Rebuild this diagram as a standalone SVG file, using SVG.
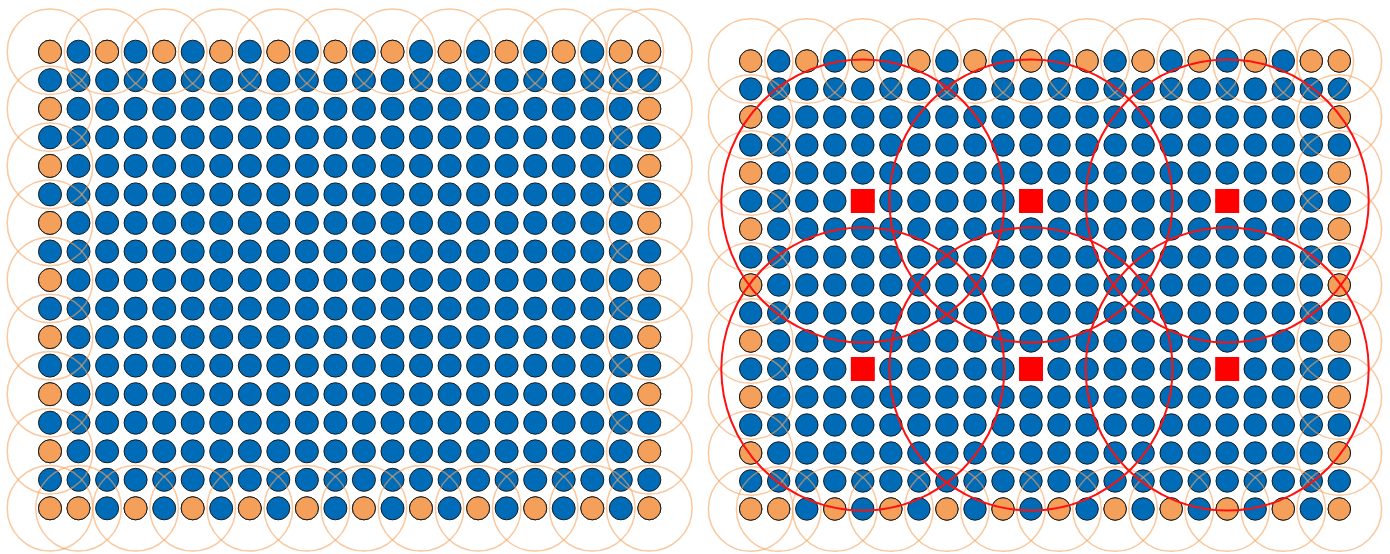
<svg xmlns="http://www.w3.org/2000/svg" xmlns:xlink="http://www.w3.org/1999/xlink" width="1390" height="554" viewBox="0 0 1390 554">
<style>
.b{fill:#006cb7;stroke:#1a1a1a;stroke-width:1}
.o{fill:#f5a05a;stroke:#1a1a1a;stroke-width:1}
.ring{fill:none;stroke:#f4a460;stroke-opacity:.6;stroke-width:1.5}
.rc{fill:none;stroke:#ff1010;stroke-width:2}
.sq{fill:#ff0000}
</style>
<defs>
<circle id="oL" class="o" r="11.5"/>
<circle id="oR" class="o" r="11.2"/>
<circle id="gL" class="ring" r="42.8"/>
<circle id="gR" class="ring" r="42.3"/>
<g id="rowL">
<circle class="b" r="11.5" cx="50"/><circle class="b" r="11.5" cx="78.5"/><circle class="b" r="11.5" cx="107.1"/><circle class="b" r="11.5" cx="135.6"/><circle class="b" r="11.5" cx="164.2"/><circle class="b" r="11.5" cx="192.7"/><circle class="b" r="11.5" cx="221.2"/><circle class="b" r="11.5" cx="249.8"/><circle class="b" r="11.5" cx="278.3"/><circle class="b" r="11.5" cx="306.9"/><circle class="b" r="11.5" cx="335.4"/><circle class="b" r="11.5" cx="363.9"/><circle class="b" r="11.5" cx="392.5"/><circle class="b" r="11.5" cx="421"/><circle class="b" r="11.5" cx="449.6"/><circle class="b" r="11.5" cx="478.1"/><circle class="b" r="11.5" cx="506.6"/><circle class="b" r="11.5" cx="535.2"/><circle class="b" r="11.5" cx="563.7"/><circle class="b" r="11.5" cx="592.3"/><circle class="b" r="11.5" cx="620.8"/><circle class="b" r="11.5" cx="649.3"/>
</g>
<g id="rowR">
<circle class="b" r="11.2" cx="750.7"/><circle class="b" r="11.2" cx="778.7"/><circle class="b" r="11.2" cx="806.8"/><circle class="b" r="11.2" cx="834.8"/><circle class="b" r="11.2" cx="862.8"/><circle class="b" r="11.2" cx="890.9"/><circle class="b" r="11.2" cx="918.9"/><circle class="b" r="11.2" cx="946.9"/><circle class="b" r="11.2" cx="975"/><circle class="b" r="11.2" cx="1003"/><circle class="b" r="11.2" cx="1031"/><circle class="b" r="11.2" cx="1059"/><circle class="b" r="11.2" cx="1087.1"/><circle class="b" r="11.2" cx="1115.1"/><circle class="b" r="11.2" cx="1143.1"/><circle class="b" r="11.2" cx="1171.2"/><circle class="b" r="11.2" cx="1199.2"/><circle class="b" r="11.2" cx="1227.2"/><circle class="b" r="11.2" cx="1255.2"/><circle class="b" r="11.2" cx="1283.3"/><circle class="b" r="11.2" cx="1311.3"/><circle class="b" r="11.2" cx="1339.3"/>
</g>
</defs>
<rect width="1390" height="554" fill="#ffffff"/>

<g id="left-grid">
<g id="left-nodes">
<use href="#rowL" y="51.7"/><use href="#rowL" y="80.2"/><use href="#rowL" y="108.8"/><use href="#rowL" y="137.3"/><use href="#rowL" y="165.9"/><use href="#rowL" y="194.4"/><use href="#rowL" y="222.9"/><use href="#rowL" y="251.5"/><use href="#rowL" y="280"/><use href="#rowL" y="308.6"/><use href="#rowL" y="337.1"/><use href="#rowL" y="365.6"/><use href="#rowL" y="394.2"/><use href="#rowL" y="422.7"/><use href="#rowL" y="451.3"/><use href="#rowL" y="479.8"/><use href="#rowL" y="508.3"/>
</g>
<g id="left-boundary-nodes">
<use href="#oL" x="50" y="51.7"/><use href="#oL" x="107.1" y="51.7"/><use href="#oL" x="164.2" y="51.7"/><use href="#oL" x="221.2" y="51.7"/><use href="#oL" x="278.3" y="51.7"/><use href="#oL" x="335.4" y="51.7"/><use href="#oL" x="392.5" y="51.7"/><use href="#oL" x="449.6" y="51.7"/><use href="#oL" x="506.6" y="51.7"/><use href="#oL" x="563.7" y="51.7"/><use href="#oL" x="620.8" y="51.7"/><use href="#oL" x="649.3" y="51.7"/>
<use href="#oL" x="50" y="508.3"/><use href="#oL" x="78.5" y="508.3"/><use href="#oL" x="135.6" y="508.3"/><use href="#oL" x="192.7" y="508.3"/><use href="#oL" x="249.8" y="508.3"/><use href="#oL" x="306.9" y="508.3"/><use href="#oL" x="363.9" y="508.3"/><use href="#oL" x="421" y="508.3"/><use href="#oL" x="478.1" y="508.3"/><use href="#oL" x="535.2" y="508.3"/><use href="#oL" x="592.3" y="508.3"/><use href="#oL" x="649.3" y="508.3"/>
<use href="#oL" x="50" y="108.8"/><use href="#oL" x="50" y="165.9"/><use href="#oL" x="50" y="222.9"/><use href="#oL" x="50" y="280"/><use href="#oL" x="50" y="337.1"/><use href="#oL" x="50" y="394.2"/><use href="#oL" x="50" y="451.3"/>
<use href="#oL" x="649.3" y="108.8"/><use href="#oL" x="649.3" y="165.9"/><use href="#oL" x="649.3" y="222.9"/><use href="#oL" x="649.3" y="280"/><use href="#oL" x="649.3" y="337.1"/><use href="#oL" x="649.3" y="394.2"/><use href="#oL" x="649.3" y="451.3"/>
</g>
<g id="left-rings">
<use href="#gL" x="50" y="51.7"/><use href="#gL" x="107.1" y="51.7"/><use href="#gL" x="164.2" y="51.7"/><use href="#gL" x="221.2" y="51.7"/><use href="#gL" x="278.3" y="51.7"/><use href="#gL" x="335.4" y="51.7"/><use href="#gL" x="392.5" y="51.7"/><use href="#gL" x="449.6" y="51.7"/><use href="#gL" x="506.6" y="51.7"/><use href="#gL" x="563.7" y="51.7"/><use href="#gL" x="620.8" y="51.7"/><use href="#gL" x="649.3" y="51.7"/>
<use href="#gL" x="50" y="508.3"/><use href="#gL" x="78.5" y="508.3"/><use href="#gL" x="135.6" y="508.3"/><use href="#gL" x="192.7" y="508.3"/><use href="#gL" x="249.8" y="508.3"/><use href="#gL" x="306.9" y="508.3"/><use href="#gL" x="363.9" y="508.3"/><use href="#gL" x="421" y="508.3"/><use href="#gL" x="478.1" y="508.3"/><use href="#gL" x="535.2" y="508.3"/><use href="#gL" x="592.3" y="508.3"/><use href="#gL" x="649.3" y="508.3"/>
<use href="#gL" x="50" y="108.8"/><use href="#gL" x="50" y="165.9"/><use href="#gL" x="50" y="222.9"/><use href="#gL" x="50" y="280"/><use href="#gL" x="50" y="337.1"/><use href="#gL" x="50" y="394.2"/><use href="#gL" x="50" y="451.3"/>
<use href="#gL" x="649.3" y="108.8"/><use href="#gL" x="649.3" y="165.9"/><use href="#gL" x="649.3" y="222.9"/><use href="#gL" x="649.3" y="280"/><use href="#gL" x="649.3" y="337.1"/><use href="#gL" x="649.3" y="394.2"/><use href="#gL" x="649.3" y="451.3"/>
</g>
</g>

<g id="right-grid">
<g id="right-nodes">
<use href="#rowR" y="61"/><use href="#rowR" y="89"/><use href="#rowR" y="117"/><use href="#rowR" y="145"/><use href="#rowR" y="173"/><use href="#rowR" y="201"/><use href="#rowR" y="229"/><use href="#rowR" y="257"/><use href="#rowR" y="285"/><use href="#rowR" y="313"/><use href="#rowR" y="341"/><use href="#rowR" y="369"/><use href="#rowR" y="397"/><use href="#rowR" y="425"/><use href="#rowR" y="453"/><use href="#rowR" y="481"/><use href="#rowR" y="509"/>
</g>
<g id="right-boundary-nodes">
<use href="#oR" x="750.7" y="61"/><use href="#oR" x="806.8" y="61"/><use href="#oR" x="862.8" y="61"/><use href="#oR" x="918.9" y="61"/><use href="#oR" x="975" y="61"/><use href="#oR" x="1031" y="61"/><use href="#oR" x="1087.1" y="61"/><use href="#oR" x="1143.1" y="61"/><use href="#oR" x="1199.2" y="61"/><use href="#oR" x="1255.2" y="61"/><use href="#oR" x="1311.3" y="61"/><use href="#oR" x="1339.3" y="61"/>
<use href="#oR" x="750.7" y="509"/><use href="#oR" x="778.7" y="509"/><use href="#oR" x="834.8" y="509"/><use href="#oR" x="890.9" y="509"/><use href="#oR" x="946.9" y="509"/><use href="#oR" x="1003" y="509"/><use href="#oR" x="1059" y="509"/><use href="#oR" x="1115.1" y="509"/><use href="#oR" x="1171.2" y="509"/><use href="#oR" x="1227.2" y="509"/><use href="#oR" x="1283.3" y="509"/><use href="#oR" x="1339.3" y="509"/>
<use href="#oR" x="750.7" y="117"/><use href="#oR" x="750.7" y="173"/><use href="#oR" x="750.7" y="229"/><use href="#oR" x="750.7" y="285"/><use href="#oR" x="750.7" y="341"/><use href="#oR" x="750.7" y="397"/><use href="#oR" x="750.7" y="453"/>
<use href="#oR" x="1339.3" y="117"/><use href="#oR" x="1339.3" y="173"/><use href="#oR" x="1339.3" y="229"/><use href="#oR" x="1339.3" y="285"/><use href="#oR" x="1339.3" y="341"/><use href="#oR" x="1339.3" y="397"/><use href="#oR" x="1339.3" y="453"/>
</g>
<g id="right-rings">
<use href="#gR" x="750.7" y="61"/><use href="#gR" x="806.8" y="61"/><use href="#gR" x="862.8" y="61"/><use href="#gR" x="918.9" y="61"/><use href="#gR" x="975" y="61"/><use href="#gR" x="1031" y="61"/><use href="#gR" x="1087.1" y="61"/><use href="#gR" x="1143.1" y="61"/><use href="#gR" x="1199.2" y="61"/><use href="#gR" x="1255.2" y="61"/><use href="#gR" x="1311.3" y="61"/><use href="#gR" x="1339.3" y="61"/>
<use href="#gR" x="750.7" y="509"/><use href="#gR" x="778.7" y="509"/><use href="#gR" x="834.8" y="509"/><use href="#gR" x="890.9" y="509"/><use href="#gR" x="946.9" y="509"/><use href="#gR" x="1003" y="509"/><use href="#gR" x="1059" y="509"/><use href="#gR" x="1115.1" y="509"/><use href="#gR" x="1171.2" y="509"/><use href="#gR" x="1227.2" y="509"/><use href="#gR" x="1283.3" y="509"/><use href="#gR" x="1339.3" y="509"/>
<use href="#gR" x="750.7" y="117"/><use href="#gR" x="750.7" y="173"/><use href="#gR" x="750.7" y="229"/><use href="#gR" x="750.7" y="285"/><use href="#gR" x="750.7" y="341"/><use href="#gR" x="750.7" y="397"/><use href="#gR" x="750.7" y="453"/>
<use href="#gR" x="1339.3" y="117"/><use href="#gR" x="1339.3" y="173"/><use href="#gR" x="1339.3" y="229"/><use href="#gR" x="1339.3" y="285"/><use href="#gR" x="1339.3" y="341"/><use href="#gR" x="1339.3" y="397"/><use href="#gR" x="1339.3" y="453"/>
</g>
<g id="right-squares">
<rect class="sq" x="850.8" y="189" width="24" height="24"/>
<rect class="sq" x="1019" y="189" width="24" height="24"/>
<rect class="sq" x="1215.2" y="189" width="24" height="24"/>
<rect class="sq" x="850.8" y="357" width="24" height="24"/>
<rect class="sq" x="1019" y="357" width="24" height="24"/>
<rect class="sq" x="1215.2" y="357" width="24" height="24"/>
</g>
<g id="right-coverage">
<circle class="rc" cx="862.8" cy="201" r="141.5"/>
<circle class="rc" cx="1031" cy="201" r="141.5"/>
<circle class="rc" cx="1227.2" cy="201" r="141.5"/>
<circle class="rc" cx="862.8" cy="369" r="141.5"/>
<circle class="rc" cx="1031" cy="369" r="141.5"/>
<circle class="rc" cx="1227.2" cy="369" r="141.5"/>
</g>
</g>
</svg>
